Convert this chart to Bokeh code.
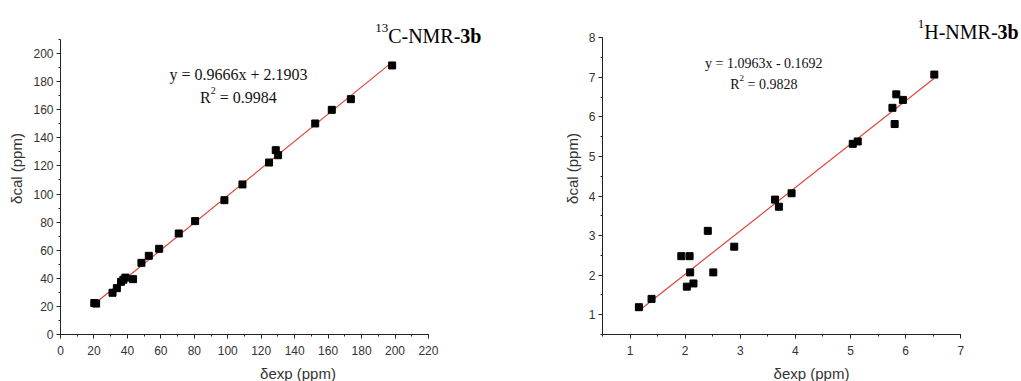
from bokeh.plotting import figure
from bokeh.layouts import row
from bokeh.models import Range1d, SingleIntervalTicker, Label
from bokeh.embed import file_html
from bokeh.resources import INLINE

# ---- data ----
c13_exp = [20.2, 21.3, 31.1, 33.7, 36.2, 37.6, 38.8, 43.4, 48.4, 52.8, 59.0, 70.7,
           80.5, 98.0, 108.8, 124.7, 128.7, 130.1, 152.3, 162.2, 173.6, 198.3]
c13_cal = [22.4, 22.0, 29.7, 33.0, 37.5, 39.0, 40.5, 39.4, 51.0, 56.0, 61.0, 71.9,
           80.7, 95.6, 106.8, 122.4, 131.2, 127.6, 150.2, 159.9, 167.5, 191.5]
c13_slope, c13_icpt, c13_r2 = 0.9666, 2.1903, 0.9984

h1_exp = [1.16, 1.39, 1.93, 2.08, 2.09, 2.03, 2.15, 2.41, 2.51, 2.89, 3.63, 3.70,
          3.93, 5.04, 5.13, 5.76, 5.83, 5.80, 5.95, 6.52]
h1_cal = [1.19, 1.40, 2.48, 2.48, 2.07, 1.71, 1.79, 3.12, 2.07, 2.72, 3.91, 3.73,
          4.07, 5.32, 5.38, 6.23, 6.57, 5.82, 6.43, 7.07]
h1_slope, h1_icpt, h1_r2 = 1.0963, -0.1692, 0.9828

x_label = "δexp (ppm)"
y_label = "δcal (ppm)"

SANS = "Liberation Sans"
SERIF = "Liberation Serif"
AX = "#222222"
RED = "#e0433b"


def style(p, xint, yint, xbounds, ybounds):
    p.xgrid.visible = False
    p.ygrid.visible = False
    p.outline_line_color = None
    p.xaxis.ticker = SingleIntervalTicker(interval=xint, num_minor_ticks=2)
    p.yaxis.ticker = SingleIntervalTicker(interval=yint, num_minor_ticks=2)
    p.xaxis.bounds = xbounds
    p.yaxis.bounds = ybounds
    for ax in (p.xaxis[0], p.yaxis[0]):
        ax.axis_line_color = AX
        ax.major_tick_line_color = AX
        ax.minor_tick_line_color = AX
        ax.major_tick_out = 4
        ax.major_tick_in = 0
        ax.minor_tick_out = 2
        ax.minor_tick_in = 0
        ax.major_label_text_font = SANS
        ax.major_label_text_font_size = "12px"
        ax.major_label_text_color = "#333333"
        ax.axis_label_text_font = SANS
        ax.axis_label_text_font_size = "15px"
        ax.axis_label_text_font_style = "normal"
        ax.axis_label_text_color = "#333333"
    p.xaxis.major_label_standoff = 7
    p.xaxis.axis_label_standoff = 7
    p.yaxis.major_label_standoff = 3
    p.yaxis.axis_label_standoff = 5
    p.xaxis.axis_label = x_label
    p.yaxis.axis_label = y_label


def title(p, x, y, pre, sup, size=20):
    # bold "3b" right-aligned at (x, y); normal text before; superscript before that
    bold_w = (0.5 + 0.556) * size
    widths = {"C": 0.667, "H": 0.722, "-": 0.333, "N": 0.722, "M": 0.889, "R": 0.667}
    pre_w = sum(widths[c] for c in pre) * size
    sup_size = 13
    p.add_layout(Label(x=x, y=y, text="3b", text_align="right", text_baseline="alphabetic",
                       text_font=SERIF, text_font_style="bold",
                       text_font_size=f"{size}px", text_color="#000000"))
    p.add_layout(Label(x=x, y=y, x_offset=-bold_w, text=pre, text_align="right",
                       text_baseline="alphabetic", text_font=SERIF,
                       text_font_size=f"{size}px", text_color="#000000"))
    p.add_layout(Label(x=x, y=y, x_offset=-bold_w - pre_w, y_offset=8, text=sup,
                       text_align="right", text_baseline="alphabetic", text_font=SERIF,
                       text_font_size=f"{sup_size}px", text_color="#000000"))


def equation(p, x, y1, y2, slope, icpt, r2, size):
    sign = "+" if icpt >= 0 else "-"
    t1 = f"y = {slope:.4f}x {sign} {abs(icpt):.4f}"
    p.add_layout(Label(x=x, y=y1, text=t1, text_align="center", text_baseline="alphabetic",
                       text_font=SERIF, text_font_size=f"{size}px", text_color="#111111"))
    # second line: R, superscript 2, " = value"
    sup = round(size * 0.65)
    rest = f"= {r2:.4f}"
    r_w = 0.667 * size
    s_w = 0.5 * sup
    sp_w = 0.25 * size
    rest_w = (0.564 + 0.25 + 0.5 + 0.25 + 2.0) * size
    start = -(r_w + s_w + sp_w + rest_w) / 2
    kw = dict(x=x, y=y2, text_align="left", text_baseline="alphabetic",
              text_font=SERIF, text_color="#111111")
    p.add_layout(Label(text="R", x_offset=start, text_font_size=f"{size}px", **kw))
    p.add_layout(Label(text="2", x_offset=start + r_w, y_offset=round(size * 0.42),
                       text_font_size=f"{sup}px", **kw))
    p.add_layout(Label(text=rest, x_offset=start + r_w + s_w + sp_w,
                       text_font_size=f"{size}px", **kw))


# ---- left: 13C ----
p1 = figure(output_backend="svg", toolbar_location=None,
            frame_width=475, frame_height=332,
            min_border_left=60, min_border_right=0, min_border_top=2, min_border_bottom=46,
            x_range=Range1d(0, 284.0), y_range=Range1d(0, 236.3))
style(p1, 20, 20, (0, 220), (0, 210))
x0, x1 = min(c13_exp), max(c13_exp)
p1.line([x0, x1], [c13_slope * x0 + c13_icpt, c13_slope * x1 + c13_icpt],
        line_color=RED, line_width=1.2)
p1.scatter(c13_exp, c13_cal, marker="square", size=7, fill_color="black",
           line_color="black", line_width=1)
title(p1, 251.7, 212.8, "C-NMR-", "13")
equation(p1, 106.4, 185.1, 168.7, c13_slope, c13_icpt, c13_r2, 16)

# ---- right: 1H ----
p2 = figure(output_backend="svg", toolbar_location=None,
            frame_width=418, frame_height=332,
            min_border_left=67, min_border_right=0, min_border_top=2, min_border_bottom=46,
            x_range=Range1d(0.5, 8.083), y_range=Range1d(0.5, 8.892))
style(p2, 1, 1, (0.5, 7), (0.5, 8))
x0, x1 = min(h1_exp), max(h1_exp)
p2.line([x0, x1], [h1_slope * x0 + h1_icpt, h1_slope * x1 + h1_icpt],
        line_color=RED, line_width=1.2)
p2.scatter(h1_exp, h1_cal, marker="square", size=7, fill_color="black",
           line_color="black", line_width=1)
title(p2, 8.05, 8.134, "H-NMR-", "1")
equation(p2, 3.426, 7.35, 6.82, h1_slope, h1_icpt, h1_r2, 14)

layout = row(p1, p2)
open("out.html", "w").write(file_html(layout, INLINE))
